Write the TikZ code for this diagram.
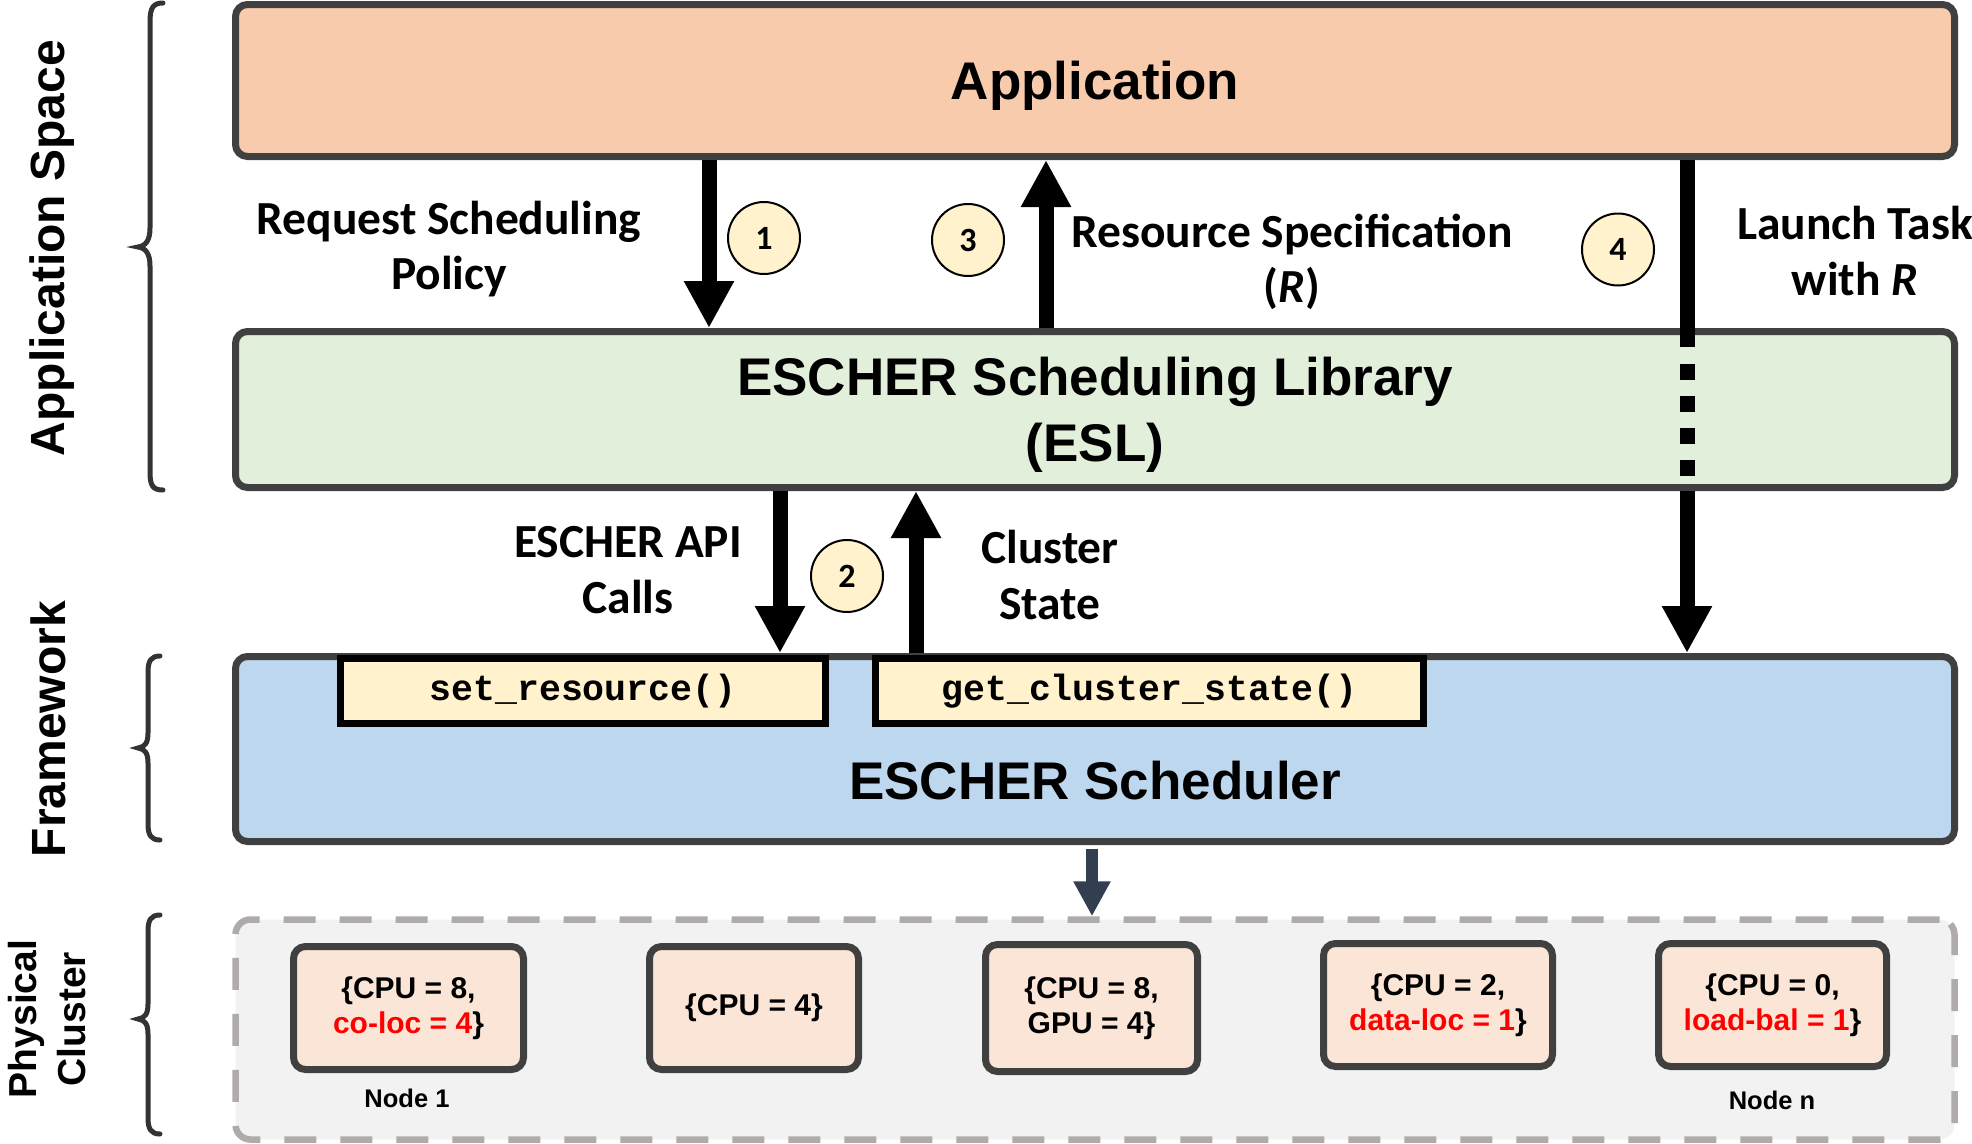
\documentclass[tikz,border=0pt]{standalone}
\usepackage{fontspec}
\setmainfont{Liberation Sans}
\newfontfamily\calfont{Carlito}
\newfontfamily\codefont{Liberation Mono}
\usetikzlibrary{arrows.meta}
\definecolor{appfill}{HTML}{F8CBAD}
\definecolor{eslfill}{HTML}{E2EFDA}
\definecolor{schedfill}{HTML}{BDD7EE}
\definecolor{boxline}{HTML}{404040}
\definecolor{callfill}{HTML}{FFF2CC}
\definecolor{clusterfill}{HTML}{F2F2F2}
\definecolor{dashgray}{HTML}{AFABAB}
\definecolor{nodefill}{HTML}{FBE5D6}
\definecolor{slate}{HTML}{333F50}
\definecolor{bracecol}{HTML}{333333}
\begin{document}
\begin{tikzpicture}[x=1pt,y=-1pt,
  layer/.style={draw=boxline, line width=7pt, rounded corners=12pt, minimum width=1719pt, inner sep=0pt},
  maintext/.style={font=\bfseries\fontsize{53}{66}\selectfont, inner sep=0pt, align=center},
  callbox/.style={draw=black, line width=7pt, fill=callfill, inner sep=0pt, font=\codefont\bfseries\fontsize{36.5}{40}\selectfont},
  res/.style={draw=boxline, fill=nodefill, line width=7pt, rounded corners=12pt, inner sep=0pt, align=center, font=\bfseries\fontsize{30}{35.5}\selectfont},
  stepnum/.style={circle, draw=black, line width=2pt, fill=callfill, minimum size=72pt, inner sep=0pt, font=\calfont\bfseries\fontsize{34}{34}\selectfont},
  lbl/.style={font=\calfont\bfseries\fontsize{47.5}{55.5}\selectfont, align=center, inner sep=0pt},
  side/.style={font=\bfseries\fontsize{48}{48}\selectfont, rotate=90, inner sep=0pt, align=center},
  nodelbl/.style={font=\bfseries\fontsize{25.5}{25.5}\selectfont, inner sep=0pt},
  bigarrow/.style={line width=15pt, -{Triangle[width=47pt,length=47pt]}},
  shaft/.style={line width=15pt},
  dotshaft/.style={line width=15pt, dash pattern=on 15.5pt off 16.5pt},
  smallarrow/.style={draw=slate, line width=12pt, -{Triangle[width=35pt,length=35pt]}, shorten <=3.5pt},
  bracestyle/.style={draw=bracecol, line width=5pt, line cap=round}
]
\useasboundingbox (0,0) rectangle (1972,1143);

% layers
\node[layer, fill=appfill, minimum height=152pt] (app) at (1095,80.5) {};
\node[maintext] (apptxt) at (1095,85.5) {Application};
\node[layer, fill=eslfill, minimum height=156pt] (esl) at (1095,409.5) {};
\node[maintext] (esltxt) at (1095,415) {ESCHER Scheduling Library\\(ESL)};
\node[layer, fill=schedfill, minimum height=185pt] (sched) at (1095,749) {};
\node[maintext] (schedtxt) at (1095,781) {ESCHER Scheduler};
\node[callbox, minimum width=485pt, minimum height=65pt] (setres) at (583,691) {set\_resource()};
\node[callbox, minimum width=548pt, minimum height=65pt] (getcs) at (1149.5,691) {get\_cluster\_state()};

% physical cluster
\node[draw=dashgray, line width=6.5pt, dash pattern=on 32pt off 24pt, fill=clusterfill, rounded corners=15pt, minimum width=1719pt, minimum height=220pt] (cluster) at (1095,1029.5) {};
\node[res, minimum width=230pt, minimum height=123pt] (n1) at (408.5,1008) {\{CPU = 8,\\\textcolor{red}{co-loc = 4}\}};
\node[res, minimum width=209pt, minimum height=123pt] (n2) at (754,1008) {\{CPU = 4\}};
\node[res, minimum width=212pt, minimum height=127pt] (n3) at (1091.5,1008) {\{CPU = 8,\\GPU = 4\}};
\node[res, minimum width=229pt, minimum height=123pt] (n4) at (1438,1005) {\{CPU = 2,\\\textcolor{red}{data-loc = 1}\}};
\node[res, minimum width=228pt, minimum height=123pt] (n5) at (1772.5,1005) {\{CPU = 0,\\\textcolor{red}{load-bal = 1}\}};
\node[nodelbl] (n1lbl) at (407,1098) {Node 1};
\node[nodelbl] (n5lbl) at (1772,1100) {Node n};

% arrow x positions
\coordinate (a1) at (709,0);
\coordinate (a3) at (1046,0);
\coordinate (a4) at (1687,0);
\coordinate (a2d) at (780,0);
\coordinate (a2u) at (916,0);
\coordinate (ac) at (1092,0);
\coordinate (a4m1) at (1687,347);
\coordinate (a4m2) at (1687,364);
\coordinate (a4m3) at (1687,476);

\draw[bigarrow] (app.south -| a1) -- (esl.north -| a1);
\draw[bigarrow] (esl.north -| a3) -- (app.south -| a3);
\draw[shaft] (app.south -| a4) -- (a4m1);
\draw[dotshaft] (a4m2) -- (a4m3);
\draw[bigarrow] (esl.south -| a4) -- (sched.north -| a4);
\draw[bigarrow] (esl.south -| a2d) -- (sched.north -| a2d);
\draw[bigarrow] (sched.north -| a2u) -- (esl.south -| a2u);
\draw[smallarrow] (sched.south -| ac) -- (cluster.north -| ac);

% step circles
\node[stepnum] (c1) at (764,238) {1};
\node[stepnum] (c3) at (968,240) {3};
\node[stepnum] (c4) at (1618,249.5) {4};
\node[stepnum] (c2) at (847,576) {2};

% labels
\node[lbl] (l1) at (449,249) {Request Scheduling\\Policy};
\node[lbl] (l3) at (1292,262) {Resource Specification\\(\textit{R})};
\node[lbl] (l4) at (1855,251) {Launch Task\\with \textit{R}};
\node[lbl] (l2a) at (628,570) {ESCHER API\\Calls};
\node[lbl] (l2b) at (1050,575) {Cluster\\State};

% side labels
\node[side] (s1) at (52,248) {Application Space};
\node[side] (s2) at (48,729) {Framework};
\node[side, font=\bfseries\fontsize{39}{49}\selectfont] (s3) at (47,1019) {Physical\\Cluster};

% braces
\draw[bracestyle] (163,3) .. controls (153,3) and (150,8) .. (150,22) -- (150,228) .. controls (150,240) and (146,246) .. (138,247) .. controls (146,248) and (150,254) .. (150,266) -- (150,472) .. controls (150,486) and (153,490) .. (163,490);
\draw[bracestyle] (160,656) .. controls (151,656) and (148,661) .. (148,672) -- (148,733) .. controls (148,743) and (145,747) .. (138,748) .. controls (145,749) and (148,753) .. (148,763) -- (148,824) .. controls (148,835) and (151,840) .. (160,840);
\draw[bracestyle] (160,915) .. controls (151,915) and (148,920) .. (148,931) -- (148,1004) .. controls (148,1014) and (145,1018) .. (138,1019) .. controls (145,1020) and (148,1024) .. (148,1034) -- (148,1118) .. controls (148,1129) and (151,1134) .. (160,1134);
\end{tikzpicture}
\end{document}
